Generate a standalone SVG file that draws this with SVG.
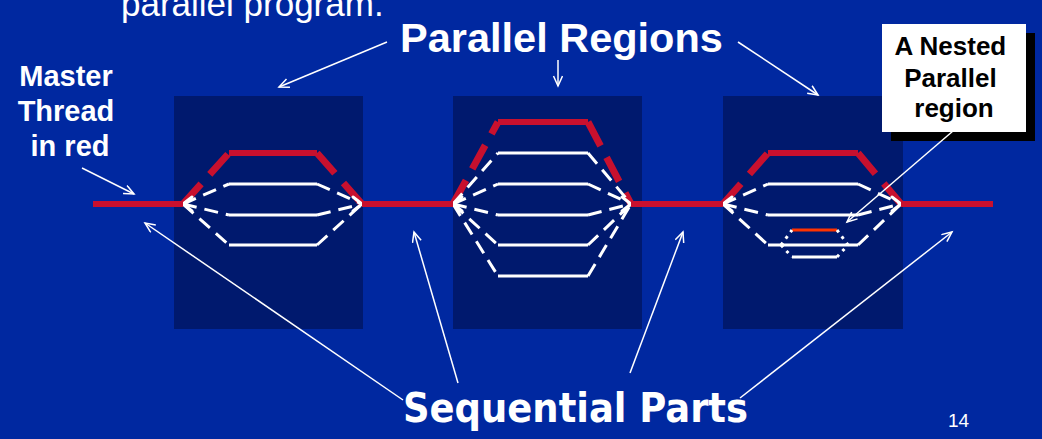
<svg xmlns="http://www.w3.org/2000/svg" width="1042" height="439" viewBox="0 0 1042 439">
  <style>
    .bg { fill: #0028A0; }
    .region { fill: #00196E; }
    .txt { font-family: "Liberation Sans", Arial, sans-serif; fill: #FFFFFF; }
    .bold { font-weight: bold; }
    .master { stroke: #C8102E; stroke-width: 6; fill: none; }
    .master-dash { stroke: #C8102E; stroke-width: 7; fill: none; stroke-dasharray: 27 13; }
    .thread { stroke: #FFFFFF; stroke-width: 3; fill: none; }
    .thread-dash { stroke: #FFFFFF; stroke-width: 3; fill: none; stroke-dasharray: 14 8; }
    .chev { stroke: #FFFFFF; stroke-width: 3; fill: none; stroke-linecap: round; stroke-linejoin: round; }
    .nested-red { stroke: #FF3300; stroke-width: 3; fill: none; }
    .nested-thread { stroke: #FFFFFF; stroke-width: 3; fill: none; }
    .nested-dash { stroke: #FFFFFF; stroke-width: 3; fill: none; stroke-dasharray: 3 5; }
    .callout { stroke: #FFFFFF; stroke-width: 1.5; fill: none; marker-end: url(#open-arrow); }
  </style>
  <defs>
    <marker id="open-arrow" markerUnits="userSpaceOnUse" markerWidth="14" markerHeight="12" refX="11" refY="5" orient="auto">
      <path d="M1,0.5 L11,5 L1,9.5" fill="none" stroke="#FFFFFF" stroke-width="1.5"/>
    </marker>
  </defs>

  <rect class="bg" x="0" y="0" width="1042" height="439"/>

  <!-- heading fragment at the top edge -->
  <text class="txt" x="121" y="16" font-size="35">parallel program.</text>

  <!-- labels -->
  <g id="label-parallel-regions">
    <text class="txt bold" x="400" y="52" font-size="41.5">Parallel Regions</text>
  </g>
  <g id="label-master-thread">
    <text class="txt bold" text-anchor="middle" font-size="29">
      <tspan x="70" y="86">Master</tspan>
      <tspan x="70" y="121">Thread</tspan>
      <tspan x="70" y="156">in red</tspan>
    </text>
  </g>
  <g id="label-sequential-parts">
    <text class="bold" x="403" y="422" font-size="41" textLength="345" lengthAdjust="spacingAndGlyphs"
          font-family="'DejaVu Sans Condensed', 'Liberation Sans', sans-serif" fill="#FFFFFF">Sequential Parts</text>
  </g>
  <text class="txt" x="948" y="427" font-size="19">14</text>

  <!-- parallel region 1 -->
  <g id="region-1">
    <rect class="region" x="174" y="96" width="189" height="233"/>
    <path class="master-dash" d="M183,204 L229,153"/>
    <path class="master" d="M229,153 L317,153"/>
    <path class="master-dash" d="M317,153 L362,204"/>
    <path class="thread-dash" d="M183,204 L229,184 M183,204 L229,215 M183,204 L229,245"/>
    <path class="thread" d="M229,184 L317,184 M229,215 L317,215 M229,245 L317,245"/>
    <path class="thread-dash" d="M317,184 L362,204 M317,215 L362,204 M317,245 L362,204"/>
    <path class="chev" d="M192,197 L183,204 L192,211"/>
    <path class="chev" d="M353,197 L362,204 L353,211"/>
  </g>

  <!-- parallel region 2 -->
  <g id="region-2">
    <rect class="region" x="453" y="96" width="189" height="233"/>
    <path class="master-dash" d="M453,204 L498,122"/>
    <path class="master" d="M498,122 L588,122"/>
    <path class="master-dash" d="M588,122 L631,204"/>
    <path class="thread-dash" d="M453,204 L498,153 M453,204 L498,184 M453,204 L498,215 M453,204 L498,245 M453,204 L498,276"/>
    <path class="thread" d="M498,153 L588,153 M498,184 L588,184 M498,215 L588,215 M498,245 L588,245 M498,276 L588,276"/>
    <path class="thread-dash" d="M588,153 L631,204 M588,184 L631,204 M588,215 L631,204 M588,245 L631,204 M588,276 L631,204"/>
    <path class="chev" d="M462,197 L453,204 L462,211"/>
    <path class="chev" d="M622,197 L631,204 L622,211"/>
  </g>

  <!-- parallel region 3 with a nested region -->
  <g id="region-3">
    <rect class="region" x="723" y="96" width="180" height="233"/>
    <path class="master-dash" d="M723,204 L768,153"/>
    <path class="master" d="M768,153 L858,153"/>
    <path class="master-dash" d="M858,153 L901,204"/>
    <path class="thread-dash" d="M723,204 L768,184 M723,204 L768,215 M723,204 L768,245"/>
    <path class="thread" d="M768,184 L858,184 M768,215 L858,215 M768,245 L858,245"/>
    <path class="thread-dash" d="M858,184 L901,204 M858,215 L901,204 M858,245 L901,204"/>
    <path class="chev" d="M732,197 L723,204 L732,211"/>
    <path class="chev" d="M892,197 L901,204 L892,211"/>
  </g>
  <g id="nested-region">
    <path class="nested-red" d="M792,230 L837,230"/>
    <path class="nested-thread" d="M792,257 L837,257"/>
    <path class="nested-dash" d="M781,245 L792,230 M781,245 L792,257 M837,230 L848,245 M837,257 L848,245"/>
  </g>

  <!-- master thread in the sequential parts -->
  <g id="sequential-parts">
    <path class="master" d="M93,204 L183,204"/>
    <path class="master" d="M362,204 L453,204"/>
    <path class="master" d="M631,204 L723,204"/>
    <path class="master" d="M901,204 L993,204"/>
  </g>

  <!-- callout box -->
  <g id="nested-callout">
    <rect x="891" y="33" width="144" height="108" fill="#000000"/>
    <rect x="882" y="24" width="144" height="108" fill="#FFFFFF"/>
    <text class="bold" text-anchor="middle" font-size="26" font-family="'Liberation Sans', Arial, sans-serif" fill="#000000">
      <tspan x="954" y="55">A Nested</tspan>
      <tspan x="954" y="87">Parallel</tspan>
      <tspan x="954" y="117">region</tspan>
    </text>
  </g>

  <!-- connectors -->
  <g id="connectors">
    <line class="callout" x1="387" y1="42" x2="279" y2="87"/>
    <line class="callout" x1="558" y1="60" x2="558" y2="86"/>
    <line class="callout" x1="738" y1="42" x2="818" y2="95"/>
    <line class="callout" x1="953" y1="131" x2="847" y2="222"/>
    <line class="callout" x1="82" y1="168" x2="134" y2="194"/>
    <line class="callout" x1="403" y1="400" x2="145" y2="223"/>
    <line class="callout" x1="458" y1="383" x2="414" y2="232"/>
    <line class="callout" x1="630" y1="373" x2="683" y2="232"/>
    <line class="callout" x1="740" y1="398" x2="952" y2="232"/>
  </g>
</svg>
